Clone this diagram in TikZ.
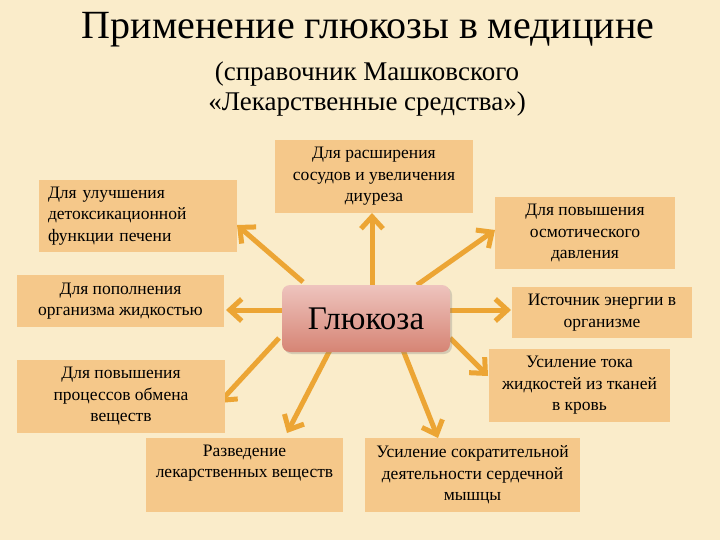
\documentclass[tikz,border=0pt]{standalone}
\usepackage{fontspec}
\IfFontExistsTF{LiberationSerif-Regular.ttf}{\setmainfont{LiberationSerif-Regular.ttf}}{\setmainfont{Liberation Serif}}
\usetikzlibrary{arrows.meta,backgrounds,shadows}
\definecolor{bg}{RGB}{250,236,202}
\definecolor{boxc}{RGB}{245,200,138}
\definecolor{arrc}{RGB}{236,165,52}
\definecolor{gtop}{RGB}{238,196,190}
\definecolor{gbot}{RGB}{214,132,116}
\tikzset{
  box/.style={fill=boxc, draw=none, inner sep=2pt, font=\fontsize{17.5}{21.5}\selectfont, align=center},
  arr/.style={draw=arrc, line width=5pt, -{Straight Barb[length=12pt,width=22pt,line width=5pt]}},
  center/.style={rounded corners=8pt, top color=gtop, bottom color=gbot, draw=none,
    font=\fontsize{33}{38}\selectfont, minimum width=168pt, minimum height=67pt,
    drop shadow={shadow xshift=2pt, shadow yshift=-2pt, opacity=0.3}},
}
\begin{document}
\begin{tikzpicture}[x=1pt,y=-1pt]
\useasboundingbox (0,0) rectangle (720,540);
\node[font=\fontsize{40}{44}\selectfont] (title) at (368,30) {Применение глюкозы в медицине};
\node[font=\fontsize{27}{30}\selectfont, align=center] (sub) at (367,89) {(справочник Машковского\\«Лекарственные средства»)};

\node[box, minimum width=198pt, minimum height=72pt, align=left, text width=180pt] (b1) at (138,216) {Для улучшения\\детоксикационной\\функции печени};
\node[box, minimum width=207pt, minimum height=52pt] (b2) at (120.5,301) {Для пополнения\\организма жидкостью};
\node[box, minimum width=198pt, minimum height=73pt] (b3) at (374,176.5) {Для расширения\\сосудов и увеличения\\диуреза};
\node[box, minimum width=180pt, minimum height=72pt] (b4) at (585,233) {Для повышения\\осмотического\\давления};
\node[box, minimum width=180pt, minimum height=51pt] (b5) at (602,312.5) {Источник энергии в\\организме};
\node[box, minimum width=181pt, minimum height=73pt] (b6) at (579.5,385.5) {Усиление тока\\жидкостей из тканей\\в кровь};
\node[box, minimum width=215pt, minimum height=74pt] (b7) at (472.5,475) {Усиление сократительной\\деятельности сердечной\\мышцы};
\node[box, minimum width=197pt, minimum height=74pt] (b8) at (244.5,475) {Разведение\\лекарственных веществ\\\strut};
\node[box, minimum width=208pt, minimum height=73pt] (b9) at (121,396.5) {Для повышения\\процессов обмена\\веществ};

\node[center] (g) at (366,318.5) {Глюкоза};

\coordinate (t1) at (237,225); \coordinate (s1) at (303,282);
\coordinate (t2) at (226,310); \coordinate (s2) at (284,310);
\coordinate (t3) at (372,213); \coordinate (s3) at (372,287);
\coordinate (t4) at (495,230); \coordinate (s4) at (417,285);
\coordinate (t5) at (511,310); \coordinate (s5) at (448,310);
\coordinate (t6) at (488,376); \coordinate (s6) at (450,338);
\coordinate (t7) at (438,438); \coordinate (s7) at (403,350);
\coordinate (t8) at (287,433); \coordinate (s8) at (330,350);
\coordinate (t9) at (219,403); \coordinate (s9) at (279,338);
\begin{scope}[on background layer]
\fill[bg] (0,0) rectangle (720,540);
\foreach \i in {1,...,9} { \draw[arr] (s\i) -- (t\i); }
\end{scope}
\end{tikzpicture}
\end{document}
